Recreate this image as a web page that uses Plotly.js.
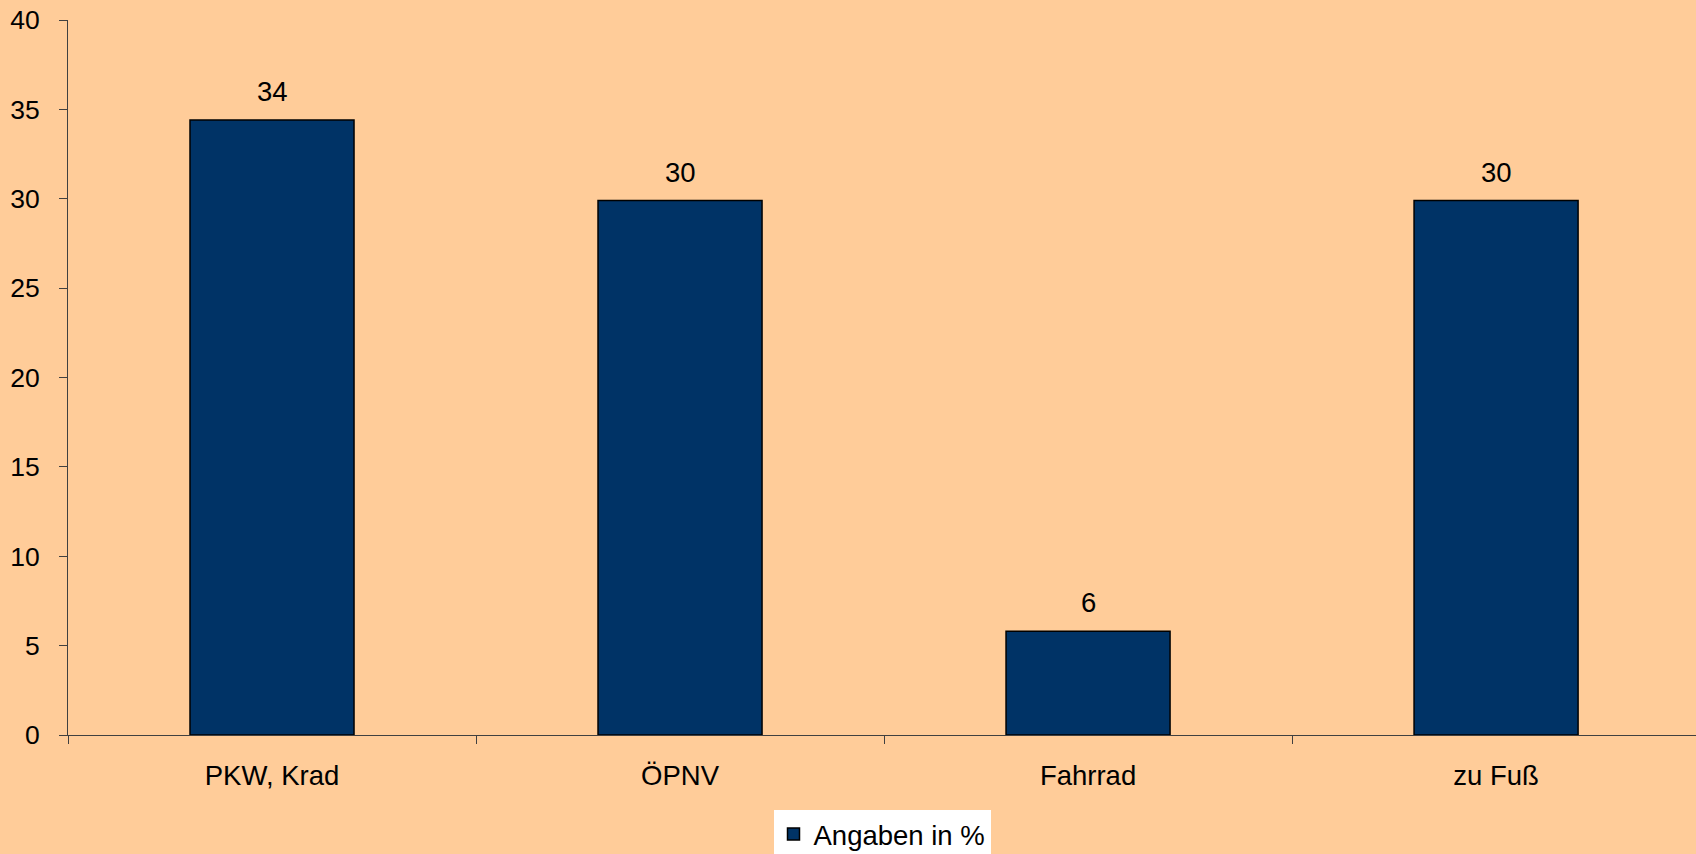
<!DOCTYPE html>
<html>
<head>
<meta charset="utf-8">
<script src="https://cdn.plot.ly/plotly-3.0.1.min.js"></script>
<style>html,body{margin:0;padding:0;background:#FFCC99;}#chart{width:1696px;height:854px;}</style>
</head>
<body>
<div id="chart"></div>
<script>
const categories = ["PKW, Krad", "ÖPNV", "Fahrrad", "zu Fuß"];
const values = [34.4, 29.9, 5.8, 29.9];
const seriesName = "Angaben in %";
const yTicks = [0, 5, 10, 15, 20, 25, 30, 35, 40];

const family = "Liberation Sans, Arial, sans-serif";
const bigFont = {family: family, size: 27.5, color: "#000000"};
const yFont = {family: family, size: 26.5, color: "#000000"};

const trace = {
  type: "bar",
  x: categories,
  y: values,
  name: seriesName,
  marker: {color: "#003366", line: {color: "#000000", width: 1.5}},
  hoverinfo: "skip",
  showlegend: true
};

const annotations = categories.map((c, i) => ({
  x: c, y: values[i], xref: "x", yref: "y",
  text: String(Math.round(values[i])),
  showarrow: false, yanchor: "bottom", yshift: 11,
  font: bigFont
}));

const layout = {
  width: 1696, height: 854,
  paper_bgcolor: "#FFCC99",
  plot_bgcolor: "#FFCC99",
  margin: {l: 68, r: 0, t: 20, b: 119, pad: 0},
  font: bigFont,
  bargap: 0.598,
  xaxis: {
    type: "category",
    range: [-0.5, 3.49],
    showline: true, linecolor: "#404040", linewidth: 1,
    ticks: "outside", ticklen: 8, tickcolor: "#404040", tickwidth: 1,
    tickson: "boundaries",
    showgrid: false, zeroline: false,
    ticklabelstandoff: 16,
    tickfont: bigFont, fixedrange: true
  },
  yaxis: {
    range: [0, 40],
    tickvals: yTicks,
    showline: true, linecolor: "#404040", linewidth: 1,
    ticks: "outside", ticklen: 8, tickcolor: "#404040", tickwidth: 1,
    showgrid: false, zeroline: false,
    ticklabelstandoff: 14,
    tickfont: yFont, fixedrange: true
  },
  showlegend: true,
  legend: {
    orientation: "h",
    xref: "paper", x: 0.5, xanchor: "center",
    yref: "container", y: 0.052, yanchor: "top",
    bgcolor: "#FFFFFF", borderwidth: 0,
    font: bigFont
  },
  annotations: annotations
};

Plotly.newPlot("chart", [trace], layout, {displayModeBar: false, staticPlot: true});
</script>
</body>
</html>
